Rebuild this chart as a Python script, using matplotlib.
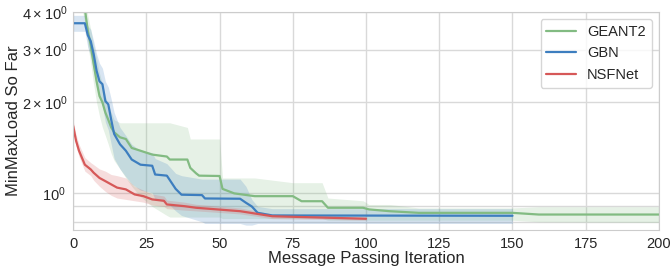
import numpy as np
import matplotlib.pyplot as plt
import seaborn as sns

# ---------------- data ----------------
geant_x = [0, 3, 4, 5, 6, 7, 8, 9, 10, 11, 12, 13, 14, 16, 18, 20, 23, 27, 32, 33, 39, 40, 42, 43,
           50, 51, 55, 62, 75, 78, 85, 87, 99, 101, 108, 118, 150, 159, 200]
geant_y = [4.6, 4.5, 4.1, 3.47, 3.1, 2.69, 2.35, 2.1, 2.0, 1.85, 1.75, 1.65, 1.59, 1.53, 1.51, 1.41, 1.38, 1.34, 1.32, 1.29, 1.29, 1.21, 1.16, 1.14,
           1.137, 1.03, 0.995, 0.974, 0.974, 0.937, 0.937, 0.891, 0.891, 0.88, 0.868, 0.857, 0.857, 0.846, 0.846]
geant_lo = [4.2, 4.1, 3.7, 3.1, 2.7, 2.3, 2.0, 1.8, 1.65, 1.55, 1.45, 1.35, 1.28, 1.2, 1.12, 1.05, 0.97, 0.9, 0.84, 0.83, 0.83, 0.83, 0.83, 0.83,
            0.83, 0.82, 0.82, 0.82, 0.82, 0.82, 0.82, 0.81, 0.81, 0.81, 0.81, 0.81, 0.81, 0.80, 0.796]
geant_hi = [5.0, 4.9, 4.5, 3.9, 3.5, 3.1, 2.8, 2.5, 2.3, 2.1, 1.95, 1.85, 1.75, 1.71, 1.71, 1.71, 1.71, 1.71, 1.71, 1.71, 1.65, 1.51, 1.51, 1.51,
            1.51, 1.12, 1.12, 1.12, 1.08, 1.08, 1.08, 0.96, 0.94, 0.914, 0.914, 0.89, 0.89, 0.898, 0.898]

gbn_x = [0, 4, 5, 6, 7, 8, 9, 10, 11, 12, 13, 14, 16, 18, 20, 23, 27, 28, 32, 35, 37, 44, 45, 57, 59, 61, 63, 68, 150]
gbn_y = [3.67, 3.67, 3.35, 3.2, 2.9, 2.55, 2.35, 2.3, 2.02, 1.97, 1.75, 1.57, 1.45, 1.38, 1.29, 1.24, 1.23, 1.15, 1.14, 1.03, 0.985, 0.982, 0.957, 0.955, 0.926, 0.90, 0.857, 0.84, 0.838]
gbn_lo = [3.45, 3.45, 3.05, 2.85, 2.55, 2.25, 2.05, 1.95, 1.72, 1.62, 1.45, 1.3, 1.2, 1.13, 1.07, 1.02, 1.0, 0.95, 0.93, 0.87, 0.84, 0.80, 0.79, 0.79, 0.78, 0.78, 0.79, 0.79, 0.79]
gbn_hi = [3.9, 3.9, 3.6, 3.5, 3.2, 2.9, 2.7, 2.6, 2.35, 2.25, 2.05, 1.85, 1.65, 1.55, 1.45, 1.38, 1.36, 1.3, 1.25, 1.16, 1.14, 1.11, 1.11, 1.11, 1.05, 0.95, 0.90, 0.885, 0.885]

nsf_x = [0, 1, 2, 4, 6, 7, 9, 11, 13, 15, 18, 21, 24, 27, 31, 32, 38, 42, 57, 68, 100]
nsf_y = [1.67, 1.49, 1.38, 1.24, 1.196, 1.166, 1.12, 1.093, 1.066, 1.04, 1.026, 0.987, 0.974, 0.95, 0.94, 0.914, 0.902, 0.891, 0.868, 0.835, 0.819]
nsf_lo = [1.6, 1.43, 1.32, 1.18, 1.14, 1.1, 1.05, 1.01, 0.98, 0.96, 0.95, 0.94, 0.93, 0.91, 0.9, 0.885, 0.875, 0.87, 0.85, 0.82, 0.81]
nsf_hi = [1.74, 1.56, 1.45, 1.31, 1.26, 1.24, 1.2, 1.18, 1.15, 1.14, 1.12, 1.05, 1.02, 0.99, 0.975, 0.945, 0.93, 0.915, 0.89, 0.85, 0.83]

names = ["GEANT2", "GBN", "NSFNet"]
colors = ["#82bb82", "#3d7ebf", "#d65858"]

# ---------------- plot ----------------
sns.set_style("whitegrid")
plt.rcParams['font.family'] = ['Liberation Sans', 'DejaVu Sans']

fig = plt.figure(figsize=(6.71, 2.67), dpi=100)
ax = fig.add_axes([0.109, 0.139, 0.873, 0.816])

series = [(geant_x, geant_y, geant_lo, geant_hi),
          (gbn_x, gbn_y, gbn_lo, gbn_hi),
          (nsf_x, nsf_y, nsf_lo, nsf_hi)]
for (x, y, lo, hi), name, c in zip(series, names, colors):
    ax.fill_between(x, lo, hi, color=c, alpha=0.2, linewidth=0)
    ax.plot(x, y, color=c, linewidth=1.6, label=name)

ax.set_yscale("log")
ax.set_xlim(0, 200)
ax.set_ylim(0.752, 4.0)
ax.grid(True, which="both", color="0.85", linewidth=1)
for s in ax.spines.values():
    s.set_color("0.8")
ax.tick_params(labelsize=10.5, which="both", pad=1.5)
ax.set_xlabel("Message Passing Iteration", fontsize=12, labelpad=0)
ax.set_ylabel("MinMaxLoad So Far", fontsize=12, labelpad=1)
ax.legend(loc="upper right", fontsize=10.5, frameon=True)

plt.savefig("out.png")
